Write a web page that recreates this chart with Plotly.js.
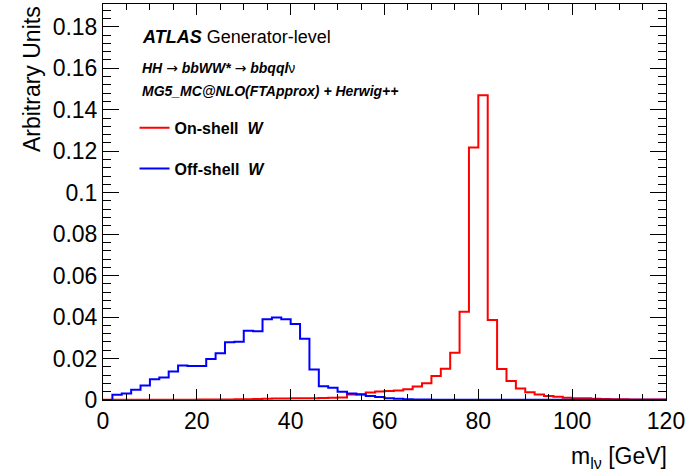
<!DOCTYPE html>
<html>
<head>
<meta charset="utf-8">
<script src="https://cdn.plot.ly/plotly-3.0.1.min.js"></script>
<style>html,body{margin:0;padding:0;background:#fff;}#chart{width:688px;height:475px;}</style>
</head>
<body>
<div id="chart"></div>
<script>
// Histogram binning (GeV)
const binLow = 0;
const binWidth = 2;

// On-shell W (red), 60 bins of 2 GeV from 0 to 120
const onShell = [
  0.0001, 0.0001, 0.0001, 0.0001, 0.0001, 0.0001, 0.0001, 0.0001, 0.0001, 0.0001,
  0.0002, 0.0002, 0.0003, 0.0003, 0.0004, 0.0004, 0.0005, 0.0006, 0.0007, 0.0007,
  0.0008, 0.0009, 0.0009, 0.0010, 0.0011, 0.0012, 0.0027, 0.0028, 0.0036, 0.0041,
  0.0043, 0.0046, 0.0052, 0.0065, 0.0081, 0.0116, 0.0151, 0.0228, 0.0426, 0.1218,
  0.1470, 0.0386, 0.0150, 0.0092, 0.0056, 0.0037, 0.0027, 0.0019, 0.0016, 0.0011,
  0.0009, 0.0008, 0.0006, 0.0005, 0.0004, 0.0004, 0.0003, 0.0003, 0.0003, 0.0003
];

// Off-shell W (blue)
const offShell = [
  0.0000, 0.0025, 0.0031, 0.0050, 0.0070, 0.0100, 0.0108, 0.0137, 0.0167, 0.0164,
  0.0164, 0.0198, 0.0225, 0.0278, 0.0281, 0.0334, 0.0331, 0.0390, 0.0398, 0.0390,
  0.0366, 0.0296, 0.0147, 0.0066, 0.0059, 0.0040, 0.0031, 0.0026, 0.0019, 0.0015,
  0.0009, 0.0006, 0.0004, 0.0003, 0.0002, 0.0001, 0.0001, 0.0001, 0.0001, 0.0001,
  0.0001, 0.0001, 0.0001, 0.0001, 0.0001, 0.0001, 0.0001, 0.0001, 0.0001, 0.0001,
  0.0001, 0.0001, 0.0001, 0.0001, 0.0001, 0.0001, 0.0001, 0.0001, 0.0001, 0.0001
];

const seriesNames = ['<b>On-shell  <i>W</i></b>', '<b>Off-shell  <i>W</i></b>'];
const seriesColors = ['#ff0000', '#0000ff'];

const yTickVals = [0, 0.02, 0.04, 0.06, 0.08, 0.1, 0.12, 0.14, 0.16, 0.18];
const yTickText = ['0', '0.02', '0.04', '0.06', '0.08', '0.1', '0.12', '0.14', '0.16', '0.18'];
const xTickVals = [0, 20, 40, 60, 80, 100, 120];
const xTickText = ['0', '20', '40', '60', '80', '100', '120'];

function stepTrace(vals, name, color, group) {
  const x = [], y = [];
  for (let i = 0; i < vals.length; i++) {
    x.push(binLow + i * binWidth);
    y.push(vals[i]);
  }
  x.push(binLow + vals.length * binWidth);
  y.push(vals[vals.length - 1]);
  return {
    type: 'scatter', mode: 'lines', x: x, y: y, name: name,
    legendgroup: group,
    line: {shape: 'hv', color: color, width: 2},
    hoverinfo: 'skip'
  };
}

const traces = [
  stepTrace(onShell, seriesNames[0], seriesColors[0], 'g1'),
  stepTrace(offShell, seriesNames[1], seriesColors[1], 'g2')
];

const FONT = '"Liberation Sans", Arial, Helvetica, sans-serif';
const ARROW = '\u00a0<span style="font-family:\'DejaVu Sans\';font-weight:normal;font-style:normal">→</span>\u00a0';

const layout = {
  width: 688, height: 475,
  margin: {l: 103, r: 22, t: 4, b: 75},
  paper_bgcolor: '#ffffff', plot_bgcolor: '#ffffff',
  font: {family: FONT, color: '#000000'},
  showlegend: true,
  legend: {
    x: 0.056, y: 0.73, xanchor: 'left', yanchor: 'top',
    bgcolor: 'rgba(0,0,0,0)', borderwidth: 0,
    font: {family: FONT, size: 16, color: '#000000'},
    tracegroupgap: 17, itemwidth: 30
  },
  xaxis: {
    range: [0, 120], tickvals: xTickVals, ticktext: xTickText,
    ticks: 'inside', ticklen: 11, tickwidth: 1, tickcolor: '#000',
    showline: true, linecolor: '#000', linewidth: 1, mirror: 'allticks',
    showgrid: false, zeroline: false,
    tickfont: {family: FONT, size: 23, color: '#000'},
    minor: {dtick: 5, tick0: 0, ticks: 'inside', ticklen: 6, tickcolor: '#000', showgrid: false}
  },
  yaxis: {
    range: [0, 0.191], tickvals: yTickVals, ticktext: yTickText,
    ticks: 'inside', ticklen: 16, tickwidth: 1, tickcolor: '#000',
    showline: true, linecolor: '#000', linewidth: 1, mirror: 'allticks',
    showgrid: false, zeroline: false,
    tickfont: {family: FONT, size: 23, color: '#000'},
    minor: {dtick: 0.004, tick0: 0, ticks: 'inside', ticklen: 8, tickcolor: '#000', showgrid: false}
  },
  annotations: [
    {xref: 'paper', yref: 'paper', x: -0.126, y: 1.0, xanchor: 'center', yanchor: 'top',
     text: 'Arbitrary Units', textangle: -90, showarrow: false,
     font: {family: FONT, size: 23, color: '#000'}},
    {xref: 'paper', yref: 'paper', x: 1.0, y: -0.144, xanchor: 'right', yanchor: 'middle', xshift: 3,
     text: 'm<sub>lν</sub> [GeV]', showarrow: false,
     font: {family: FONT, size: 23, color: '#000'}},
    {xref: 'paper', yref: 'paper', x: 0.0657, y: 0.9167, xanchor: 'left', yanchor: 'middle',
     text: '<b><i>ATLAS</i></b> Generator-level', showarrow: false,
     font: {family: FONT, size: 18, color: '#000'}},
    {xref: 'paper', yref: 'paper', x: 0.0657, y: 0.8384, xanchor: 'left', yanchor: 'middle',
     text: '<b><i>HH</i></b>' + ARROW + '<b><i>bbWW*</i></b>' + ARROW + '<b><i>bbqql</i></b>ν', showarrow: false,
     font: {family: FONT, size: 14, color: '#000'}},
    {xref: 'paper', yref: 'paper', x: 0.0657, y: 0.780, xanchor: 'left', yanchor: 'middle',
     text: '<b><i>MG5_MC@NLO(FTApprox) + Herwig++</i></b>', showarrow: false,
     font: {family: FONT, size: 14, color: '#000'}}
  ]
};

Plotly.newPlot('chart', traces, layout, {displayModeBar: false, staticPlot: true});
</script>
</body>
</html>
